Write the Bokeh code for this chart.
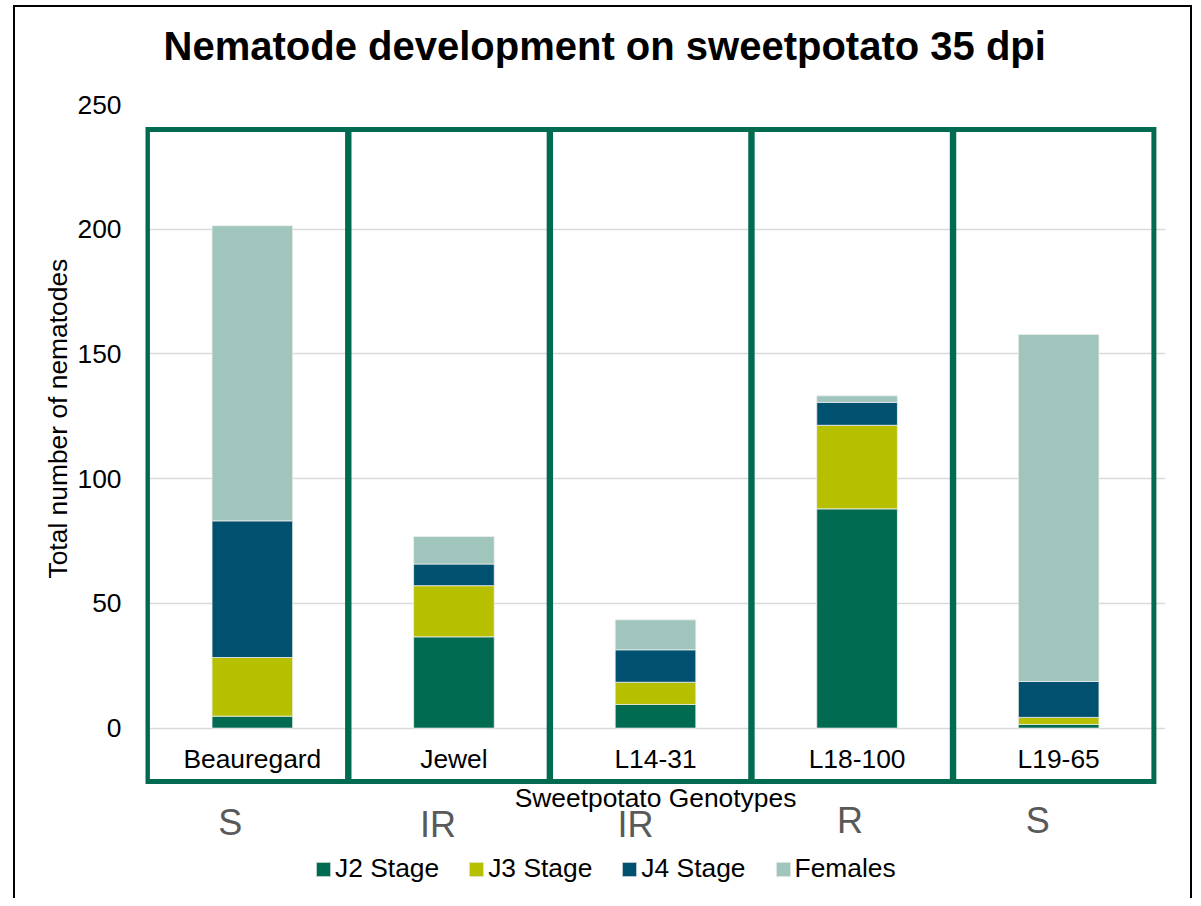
import math
from bokeh.plotting import figure
from bokeh.models import Range1d, FixedTicker, Label, Legend, LegendItem, ColumnDataSource, Title
from bokeh.transform import dodge
from bokeh.core.properties import value
from bokeh.embed import file_html
from bokeh.resources import INLINE

# ---------------- data ----------------
genotypes = ["Beauregard", "Jewel", "L14-31", "L18-100", "L19-65"]
resistance = ["S", "IR", "IR", "R", "S"]
series = ["J2 Stage", "J3 Stage", "J4 Stage", "Females"]
j2_stage = [4.8, 36.6, 9.5, 87.9, 1.5]
j3_stage = [23.5, 20.5, 8.9, 33.5, 2.8]
j4_stage = [54.8, 8.7, 13.0, 9.2, 14.4]
females = [118.3, 11.0, 12.0, 2.6, 139.1]
y_ticks = [0, 50, 100, 150, 200, 250]

# ---------------- style ----------------
FONT = "Liberation Sans"
FS = "26.4px"
COLORS = ["#006B50", "#B6BF00", "#00506F", "#9FC5BC"]
BOX = "#006B50"

source = ColumnDataSource(dict(
    genotype=genotypes,
    resistance=resistance,
    j2=j2_stage, j3=j3_stage, j4=j4_stage, fem=females,
    r_xoff=[-22, -16, -20, -7, -21],
    r_yoff=[0, 2, 2, -2, -2],
))

p = figure(
    x_range=genotypes,
    y_range=Range1d(-67.5, 250),
    width=1199, height=898,
    output_backend="svg", toolbar_location=None,
    min_border_left=145, min_border_right=34, min_border_top=104, min_border_bottom=2,
)
p.x_range.range_padding = 0.03
p.x_range.range_padding_units = "absolute"
p.background_fill_color = "white"
p.border_fill_color = "white"
p.border_fill_alpha = 0
p.outline_line_color = None
# thin black frame around the whole chart (drawn behind the transparent border area)
p.styles = {
    "background": (
        "linear-gradient(#000,#000) 13px 5px / 2px 100% no-repeat, "
        "linear-gradient(#000,#000) 13px 5px / 1179px 2px no-repeat, "
        "linear-gradient(#000,#000) 1190px 5px / 2px 100% no-repeat"
    )
}

# title
p.title.text = "Nematode development on sweetpotato 35 dpi"
p.title.text_font = FONT
p.title.text_font_style = "bold"
p.title.text_font_size = "40px"
p.title.text_color = "black"
p.title.align = "left"
p.title.offset = 18
p.title.standoff = 40
# small spacer between the title and the plot area
p.add_layout(Title(text=" ", text_font_size="1px", standoff=14), "above")

# axes
p.xaxis.visible = False
p.xgrid.visible = False
p.yaxis.ticker = FixedTicker(ticks=y_ticks)
p.ygrid.ticker = FixedTicker(ticks=y_ticks)
p.ygrid.grid_line_color = "#D9D9D9"
p.ygrid.grid_line_width = 1.5
p.yaxis.axis_line_color = None
p.yaxis.major_tick_line_color = None
p.yaxis.minor_tick_line_color = None
p.yaxis.major_tick_out = 0
p.yaxis.major_tick_in = 0
p.yaxis.major_label_standoff = 24
p.yaxis.major_label_text_font = FONT
p.yaxis.major_label_text_font_size = FS
p.yaxis.major_label_text_color = "black"

# y axis title (placed as a side title so it is centred on the 0-250 span)
p.add_layout(Title(text="Total number of nematodes", align="left", offset=318,
                   vertical_align="bottom", standoff=4,
                   text_font=FONT, text_font_size=FS, text_font_style="normal",
                   text_color="black"), "left")

# stacked bars
stack_keys = ["j2", "j3", "j4", "fem"]
bars = p.vbar_stack(stack_keys, x="genotype", width=0.4, source=source,
                    color=COLORS, line_color="#EEEEEE", line_width=0.8)

# group boxes
box_top, box_bottom = 240.0, -21.4
p.rect(x=dodge("genotype", -0.024, range=p.x_range), y=(box_top + box_bottom) / 2,
       width=0.993, height=box_top - box_bottom, source=source,
       fill_color=None, line_color=BOX, line_width=5, line_join="miter")

# category labels inside the boxes
p.text(x="genotype", y=-12.2, text="genotype", source=source,
       text_font=value(FONT), text_font_size=FS, text_color="black",
       text_align="center", text_baseline="alphabetic")

# resistance labels
p.text(x="genotype", y=-37.8, text="resistance", source=source,
       x_offset="r_xoff", y_offset="r_yoff",
       text_font=value(FONT), text_font_size="36px", text_color="#595959",
       text_align="center", text_baseline="alphabetic")

# x axis title
p.add_layout(Label(x=2.5, y=-28.1, text="Sweetpotato Genotypes",
                   text_font=FONT, text_font_size=FS, text_color="black",
                   text_align="center", text_baseline="alphabetic"))

# legend
items = [LegendItem(label=s, renderers=[r]) for s, r in zip(series, bars)]
legend = Legend(items=items, orientation="horizontal", location=(169, 12),
                glyph_width=18, glyph_height=18, label_standoff=3, spacing=28,
                padding=0, margin=0, border_line_color=None, background_fill_alpha=0,
                label_text_font=FONT, label_text_font_size=FS, label_text_color="black")
p.add_layout(legend)

open("out.html", "w").write(file_html(p, INLINE))
